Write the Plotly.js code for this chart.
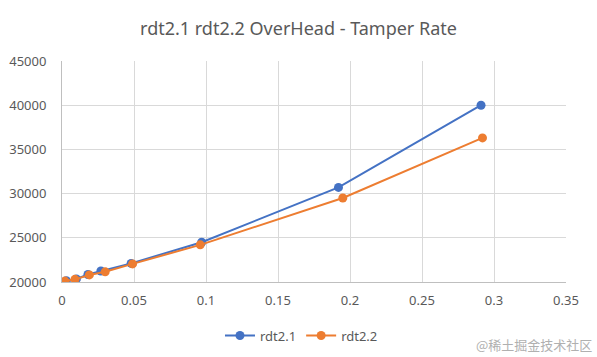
<!DOCTYPE html>
<html><head><meta charset="utf-8">
<script src="https://cdn.plot.ly/plotly-3.0.1.min.js"></script>
<style>html,body{margin:0;padding:0;background:#fff}#c{width:597px;height:357px}</style>
</head><body><div id="c"></div>
<script>
const rdt21X = [0.003, 0.010, 0.018, 0.027, 0.048, 0.097, 0.192, 0.291];
const rdt21Y = [20150, 20350, 20850, 21250, 22100, 24500, 30700, 40000];
const rdt22X = [0.002, 0.009, 0.019, 0.030, 0.049, 0.096, 0.195, 0.292];
const rdt22Y = [20100, 20300, 20800, 21150, 22050, 24200, 29500, 36300];
const seriesNames = ["rdt2.1", "rdt2.2"];
const xTicks = [0, 0.05, 0.1, 0.15, 0.2, 0.25, 0.3, 0.35];
const yTicks = [20000, 25000, 30000, 35000, 40000, 45000];

const font = "Noto Sans, Open Sans, sans-serif";
const traces = [
  {x: rdt21X, y: rdt21Y, name: seriesNames[0], mode: "lines+markers", type: "scatter",
   line: {color: "#4472C4", width: 2}, marker: {color: "#4472C4", size: 9}},
  {x: rdt22X, y: rdt22Y, name: seriesNames[1], mode: "lines+markers", type: "scatter",
   line: {color: "#ED7D31", width: 2}, marker: {color: "#ED7D31", size: 9}}
];
const layout = {
  width: 597, height: 357,
  margin: {l: 62, r: 31, t: 61, b: 75, autoexpand: false},
  paper_bgcolor: "#fff", plot_bgcolor: "#fff",
  font: {family: font, color: "#595959", size: 13},
  title: {text: "rdt2.1 rdt2.2 OverHead - Tamper Rate", x: 0.5, xanchor: "center", y: 0.92, yanchor: "middle",
          font: {family: font, size: 18, color: "#595959"}},
  xaxis: {range: [0, 0.35], tickvals: xTicks, ticktext: xTicks.map(String), showgrid: true, gridcolor: "#d9d9d9",
          zeroline: false, showline: true, linecolor: "#bfbfbf", ticks: "", ticklabelstandoff: 6},
  yaxis: {range: [20000, 45000], tickvals: yTicks, ticktext: yTicks.map(String), showgrid: true, gridcolor: "#d9d9d9",
          zeroline: false, showline: true, linecolor: "#bfbfbf", ticks: "", ticklabelstandoff: 12},
  showlegend: true,
  legend: {orientation: "h", x: 0.505, xref: "container", xanchor: "center", y: 0.06, yref: "container", yanchor: "middle",
           font: {size: 13, color: "#595959"}},
  annotations: [{text: "@稀土掘金技术社区", xref: "paper", yref: "paper", x: 1.055, y: -0.285, xanchor: "right", yanchor: "middle",
                 showarrow: false, font: {family: "Noto Sans CJK SC, sans-serif", size: 13, color: "#b0b0b0"}}]
};
Plotly.newPlot("c", traces, layout, {displayModeBar: false, staticPlot: true});
</script></body></html>
